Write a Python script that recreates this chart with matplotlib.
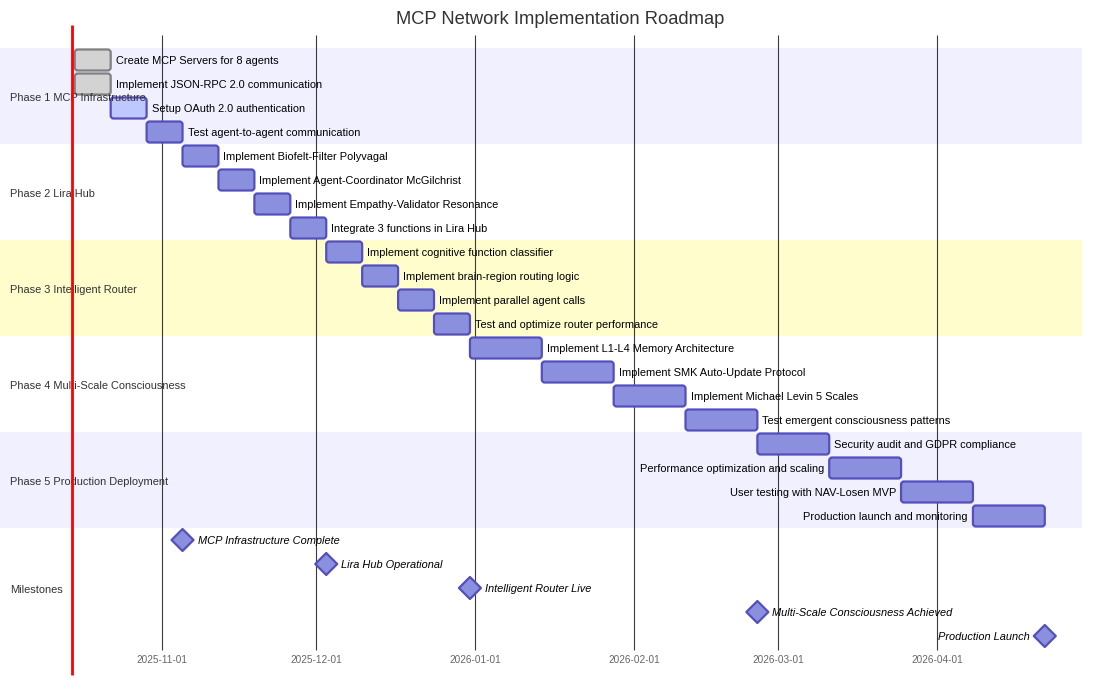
import numpy as np
import matplotlib
matplotlib.use("Agg")
import matplotlib.pyplot as plt
import matplotlib.dates as mdates
from matplotlib.patches import FancyBboxPatch, Polygon
from datetime import datetime, timedelta

plt.rcParams['font.family'] = ['Liberation Sans', 'DejaVu Sans']

title = "MCP Network Implementation Roadmap"

sections = ["Phase 1 MCP Infrastructure", "Phase 2 Lira Hub", "Phase 3 Intelligent Router",
            "Phase 4 Multi-Scale Consciousness", "Phase 5 Production Deployment", "Milestones"]

task_names = [
    "Create MCP Servers for 8 agents",
    "Implement JSON-RPC 2.0 communication",
    "Setup OAuth 2.0 authentication",
    "Test agent-to-agent communication",
    "Implement Biofelt-Filter Polyvagal",
    "Implement Agent-Coordinator McGilchrist",
    "Implement Empathy-Validator Resonance",
    "Integrate 3 functions in Lira Hub",
    "Implement cognitive function classifier",
    "Implement brain-region routing logic",
    "Implement parallel agent calls",
    "Test and optimize router performance",
    "Implement L1-L4 Memory Architecture",
    "Implement SMK Auto-Update Protocol",
    "Implement Michael Levin 5 Scales",
    "Test emergent consciousness patterns",
    "Security audit and GDPR compliance",
    "Performance optimization and scaling",
    "User testing with NAV-Losen MVP",
    "Production launch and monitoring",
]
task_section = [0, 0, 0, 0, 1, 1, 1, 1, 2, 2, 2, 2, 3, 3, 3, 3, 4, 4, 4, 4]
task_start = ["2025-10-15", "2025-10-15", "2025-10-22", "2025-10-29",
              "2025-11-05", "2025-11-12", "2025-11-19", "2025-11-26",
              "2025-12-03", "2025-12-10", "2025-12-17", "2025-12-24",
              "2025-12-31", "2026-01-14", "2026-01-28", "2026-02-11",
              "2026-02-25", "2026-03-11", "2026-03-25", "2026-04-08"]
task_days = [7, 7, 7, 7, 7, 7, 7, 7, 7, 7, 7, 7, 14, 14, 14, 14, 14, 14, 14, 14]
task_status = ["done", "done", "active"] + ["todo"] * 17

milestone_names = ["MCP Infrastructure Complete", "Lira Hub Operational", "Intelligent Router Live",
                   "Multi-Scale Consciousness Achieved", "Production Launch"]
milestone_dates = ["2025-11-05", "2025-12-03", "2025-12-31", "2026-02-25", "2026-04-22"]

tick_dates = ["2025-11-01", "2025-12-01", "2026-01-01", "2026-02-01", "2026-03-01", "2026-04-01"]
today = "2025-10-14 12:00"

# ---- layout (pixel based) ----
W, H = 1120, 700
px_per_day = 775 / 151.0
row_px = 24.0
x0 = mdates.date2num(datetime(2025, 11, 1))
dx = 1 / px_per_day          # days per pixel
dy = 1 / row_px              # rows per pixel

fig = plt.figure(figsize=(W / 100, H / 100), dpi=100)
ax = fig.add_axes([0, 0, 1, 1])
ax.set_xlim(x0 - 162 * dx, x0 + (W - 162) * dx)
ax.set_ylim((H - 60) * dy, -60 * dy)
ax.axis('off')

fill = {"done": "#d3d3d3", "active": "#bfc7ff", "todo": "#8a90dd"}
edge = {"done": "#808080", "active": "#534fbc", "todo": "#534fbc"}
band = ["#f0f0ff", "white", "#fffdcc", "white", "#f0f0ff", "white"]

def d(s):
    fmt = "%Y-%m-%d %H:%M" if " " in s else "%Y-%m-%d"
    return mdates.date2num(datetime.strptime(s, fmt))

# section bands and labels
sec_rows = [[i for i, s in enumerate(task_section) if s == k] for k in range(5)]
sec_rows.append(list(range(len(task_names), len(task_names) + len(milestone_names))))
for k, rows in enumerate(sec_rows):
    top, bot = rows[0] - 0.5, rows[-1] + 0.5
    ax.axhspan(top, bot, xmin=0, xmax=1082 / W, color=band[k], lw=0, zorder=0)
    ax.text(ax.get_xlim()[0] + 10 * dx, (top + bot) / 2 + 2 * dy, sections[k],
            fontsize=7.9, color="#333333", va="center", ha="left", zorder=5)

# grid
ymin_grid, ymax_grid = (35 - 60) * dy, (650 - 60) * dy
for t in tick_dates:
    ax.vlines(d(t), ymin_grid, ymax_grid, color="#3a3a3a", lw=0.8, zorder=1)
    ax.text(d(t), (660 - 60) * dy, t, fontsize=7.2, color="#666666",
            ha="center", va="center")

# today line
ax.vlines(d(today), (25 - 60) * dy, (675 - 60) * dy, color="red", lw=2, zorder=6)

# tasks
cutoff = d("2026-03-15")
for i, name in enumerate(task_names):
    s = d(task_start[i])
    e = s + task_days[i]
    st = task_status[i]
    patch = FancyBboxPatch((s, i - 10.5 * dy), task_days[i], 21 * dy,
                           boxstyle="round,pad=0,rounding_size=%f" % (3 * dx),
                           mutation_aspect=dy / dx,
                           fc=fill[st], ec=edge[st], lw=1.6, zorder=3)
    ax.add_patch(patch)
    if e > cutoff:
        ax.text(s - 5 * dx, i + 0.5 * dy, name, fontsize=7.9, color="black", ha="right", va="center", zorder=4)
    else:
        ax.text(e + 5 * dx, i + 0.5 * dy, name, fontsize=7.9, color="black", ha="left", va="center", zorder=4)

# milestones
for j, name in enumerate(milestone_names):
    r = len(task_names) + j
    c = d(milestone_dates[j])
    hw, hh = 11 * dx, 11 * dy
    poly = Polygon([(c - hw, r), (c, r - hh), (c + hw, r), (c, r + hh)], closed=True,
                   fc="#8a90dd", ec="#534fbc", lw=1.6, joinstyle="round", zorder=3)
    ax.add_patch(poly)
    if c > cutoff:
        ax.text(c - 15 * dx, r + 0.5 * dy, name, fontsize=7.9, style="italic", ha="right", va="center", zorder=4)
    else:
        ax.text(c + 15 * dx, r + 0.5 * dy, name, fontsize=7.9, style="italic", ha="left", va="center", zorder=4)

fig.text(0.5, 1 - 19 / H, title, fontsize=13.2, color="#333333", ha="center", va="center")

fig.savefig("out.png", dpi=100)
